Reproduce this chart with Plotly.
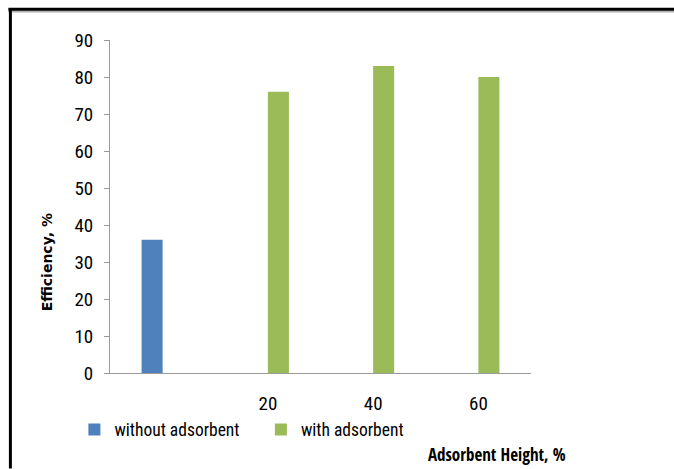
import plotly.graph_objects as go

# Category slots on the x axis (first slot is the reference run, no height label)
categories = ["ref", "20", "40", "60"]
tick_labels = ["", "20", "40", "60"]

# Efficiency, % for each slot
without_adsorbent = [36, None, None, None]
with_adsorbent = [None, 76, 83, 80]

W, H = 674, 469
L, R, T, B = 109.6, 143.4, 39.5, 95.7
pw, ph = W - L - R, H - T - B

def px(x):
    return (x - L) / pw

def py(y):
    return (H - B - y) / ph

narrow = "Roboto Condensed, Liberation Sans Narrow, sans-serif"
narrow_bold = "Open Sans Condensed, Roboto Condensed, sans-serif"

fig = go.Figure()
fig.add_trace(go.Bar(x=categories, y=without_adsorbent, name="without adsorbent",
                     marker=dict(color="#4f81bd", line=dict(width=0))))
fig.add_trace(go.Bar(x=categories, y=with_adsorbent, name="with adsorbent",
                     marker=dict(color="#9bbb59", line=dict(width=0))))

fig.update_layout(
    width=W, height=H,
    margin=dict(l=L, r=R, t=T, b=B, autoexpand=False),
    paper_bgcolor="white", plot_bgcolor="white",
    barmode="group", bargap=0.6, bargroupgap=0,
    showlegend=True,
    legend=dict(orientation="h", x=px(74), y=py(430), xanchor="left", yanchor="middle",
                entrywidth=141.5, entrywidthmode="pixels", itemwidth=30,
                font=dict(family=narrow, size=17.5, color="#000"),
                bgcolor="rgba(0,0,0,0)"),
    font=dict(family=narrow, color="#000"),
)

fig.update_xaxes(
    type="category", tickvals=categories, ticktext=tick_labels,
    showline=True, linecolor="#9a9a9a", linewidth=1, ticks="",
    showgrid=False, zeroline=False,
    tickfont=dict(family=narrow, size=19, color="#000"),
    ticklabelstandoff=13,
)
fig.update_yaxes(
    range=[0, 90], dtick=10, tick0=0,
    showline=True, linecolor="#9a9a9a", linewidth=1,
    ticks="outside", ticklen=5, tickcolor="#9a9a9a",
    showgrid=False, zeroline=False,
    tickfont=dict(family=narrow, size=19, color="#000"),
    ticklabelstandoff=7,
)

# Axis titles
fig.add_annotation(text="<b>Efficiency, %</b>", x=px(47), y=py(262), xref="paper", yref="paper",
                   xanchor="center", yanchor="middle", textangle=-90, showarrow=False,
                   font=dict(family="DejaVu Sans, Verdana, sans-serif", size=14, color="#000"))
fig.add_annotation(text="<b>Adsorbent Height, %</b>", x=px(496.5), y=py(455), xref="paper", yref="paper",
                   xanchor="center", yanchor="middle", showarrow=False,
                   font=dict(family=narrow_bold, size=17, color="#000"))

# Frame edges along the top and left of the page
fig.add_shape(type="line", xref="paper", yref="paper", x0=px(8), x1=px(674), y0=py(11), y1=py(11),
              line=dict(color="#b0b0b0", width=2))
fig.add_shape(type="line", xref="paper", yref="paper", x0=px(8), x1=px(674), y0=py(8.7), y1=py(8.7),
              line=dict(color="#000", width=3))
fig.add_shape(type="line", xref="paper", yref="paper", x0=px(10), x1=px(10), y0=py(7.3), y1=py(469),
              line=dict(color="#000", width=3))

fig.write_html("out.html")
